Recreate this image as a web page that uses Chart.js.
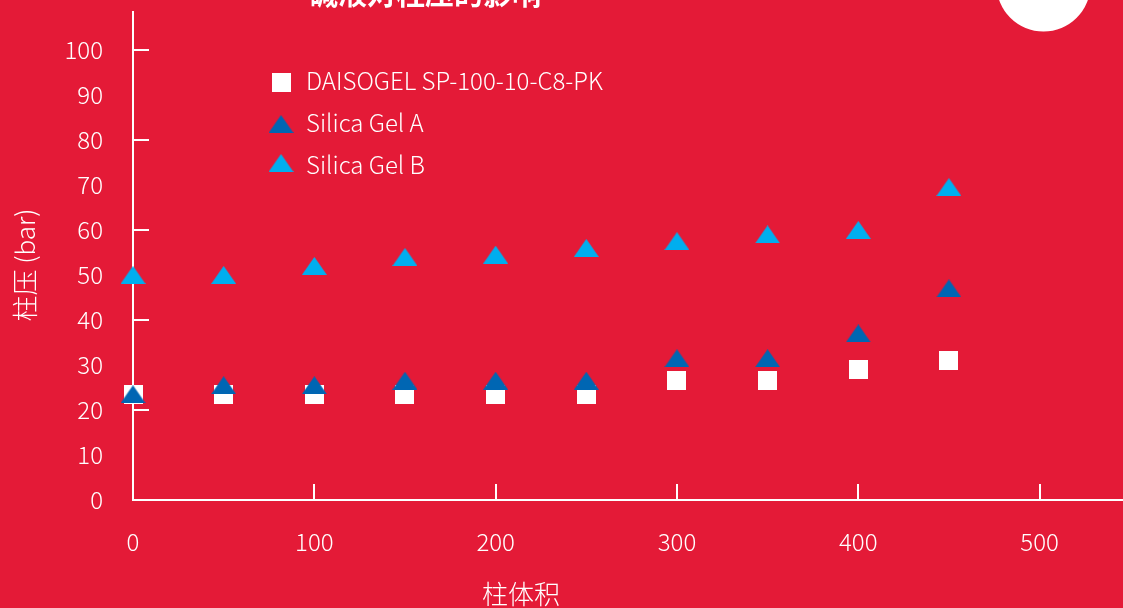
<!DOCTYPE html>
<html>
<head>
<meta charset="utf-8">
<script src="https://cdn.jsdelivr.net/npm/chart.js@4/dist/chart.umd.min.js"></script>
<style>
  html, body { margin: 0; padding: 0; background: #e41a37; overflow: hidden; }
  canvas { display: block; }
</style>
</head>
<body>
<canvas id="pressureChart" width="1123" height="608"></canvas>
<script>
// data
const columnVolume = [0, 50, 100, 150, 200, 250, 300, 350, 400, 450];
const daisogel = [23.5, 23.5, 23.5, 23.5, 23.5, 23.5, 26.5, 26.5, 29, 31];
const silicaA = [23.5, 25.5, 25.5, 26.5, 26.5, 26.5, 31.5, 31.5, 37, 47];
const silicaB = [50, 50, 52, 54, 54.5, 56, 57.5, 59, 60, 69.5];
const seriesNames = ['DAISOGEL SP-100-10-C8-PK', 'Silica Gel A', 'Silica Gel B'];
const xTickLabels = [0, 100, 200, 300, 400, 500];
const yTickLabels = [0, 10, 20, 30, 40, 50, 60, 70, 80, 90, 100];
const yTickMarks = [20, 40, 60, 80, 100];

const RED = '#e41a37';
const WHITE = '#ffffff';
const DARK_BLUE = '#0066b3';
const LIGHT_BLUE = '#00aeef';
const FONT = '"Noto Sans CJK SC", "Noto Sans", sans-serif';

function squareMarker(color) {
  const c = document.createElement('canvas');
  c.width = 19; c.height = 19;
  const g = c.getContext('2d');
  g.fillStyle = color;
  g.fillRect(0, 0, 19, 19);
  return c;
}

function triangleMarker(color) {
  const c = document.createElement('canvas');
  c.width = 25; c.height = 18;
  const g = c.getContext('2d');
  g.fillStyle = color;
  g.beginPath();
  g.moveTo(0, 18);
  g.lineTo(12.5, 0);
  g.lineTo(25, 18);
  g.closePath();
  g.fill();
  return c;
}

const markers = [squareMarker(WHITE), triangleMarker(DARK_BLUE), triangleMarker(LIGHT_BLUE)];
const toPoints = vals => vals.map((v, i) => ({ x: columnVolume[i], y: v }));

// red page, white circle and the clipped title
const backdrop = {
  id: 'backdrop',
  beforeDraw(chart) {
    const ctx = chart.ctx;
    ctx.save();
    ctx.fillStyle = RED;
    ctx.fillRect(0, 0, chart.width, chart.height);
    ctx.fillStyle = WHITE;
    ctx.beginPath();
    ctx.arc(1043.5, -15.5, 47, 0, Math.PI * 2);
    ctx.fill();
    ctx.font = 'bold 29px ' + FONT;
    ctx.textAlign = 'center';
    ctx.textBaseline = 'alphabetic';
    ctx.fillText('碱液对柱压的影响', 425, 5);
    ctx.restore();
  }
};

// inward tick marks and both axis titles
const axisMarks = {
  id: 'axisMarks',
  beforeDatasetsDraw(chart) {
    const ctx = chart.ctx;
    const { x, y } = chart.scales;
    ctx.save();
    ctx.strokeStyle = WHITE;
    ctx.lineWidth = 2;
    ctx.beginPath();
    xTickLabels.filter(v => v > 0).forEach(v => {
      const px = Math.round(x.getPixelForValue(v));
      ctx.moveTo(px, y.bottom);
      ctx.lineTo(px, y.bottom - 16);
    });
    yTickMarks.forEach(v => {
      const py = Math.round(y.getPixelForValue(v));
      ctx.moveTo(x.left, py);
      ctx.lineTo(x.left + 16, py);
    });
    ctx.stroke();
    ctx.fillStyle = WHITE;
    ctx.font = '300 26px ' + FONT;
    ctx.textAlign = 'center';
    ctx.textBaseline = 'middle';
    ctx.fillText('柱体积', 521, 594);
    ctx.translate(25, 265);
    ctx.rotate(-Math.PI / 2);
    ctx.fillText('柱压 (bar)', 0, 0);
    ctx.restore();
  }
};

// legend inside the plot
const innerLegend = {
  id: 'innerLegend',
  afterDraw(chart) {
    const ctx = chart.ctx;
    const rows = [82, 124, 163];
    const baselines = [90, 132, 174];
    ctx.save();
    ctx.fillStyle = WHITE;
    ctx.font = '300 24px ' + FONT;
    ctx.textAlign = 'left';
    ctx.textBaseline = 'alphabetic';
    seriesNames.forEach((name, i) => {
      const m = markers[i];
      ctx.drawImage(m, 281 - m.width / 2, rows[i] - m.height / 2);
      ctx.fillText(name, 306, baselines[i]);
    });
    ctx.restore();
  }
};

const ctx = document.getElementById('pressureChart').getContext('2d');
const pressureChart = new Chart(ctx, {
  type: 'scatter',
  data: {
    datasets: [
      { label: seriesNames[0], data: toPoints(daisogel), pointStyle: markers[0], order: 2, clip: false },
      { label: seriesNames[1], data: toPoints(silicaA), pointStyle: markers[1], order: 1, clip: false },
      { label: seriesNames[2], data: toPoints(silicaB), pointStyle: markers[2], order: 0, clip: false }
    ]
  },
  options: {
    responsive: false,
    animation: false,
    layout: { autoPadding: false, padding: { top: 12, left: 0, right: 0, bottom: 0 } },
    elements: { point: { radius: 10, hoverRadius: 10 } },
    plugins: {
      legend: { display: false },
      title: { display: false },
      tooltip: { enabled: false }
    },
    scales: {
      x: {
        type: 'linear',
        min: 0,
        max: 546,
        afterFit: s => { s.height = 108; s.paddingLeft = 0; s.paddingRight = 0; },
        afterBuildTicks: s => { s.ticks = xTickLabels.map(v => ({ value: v })); },
        grid: { display: true, drawOnChartArea: false, drawTicks: false },
        border: { display: true, color: WHITE, width: 2 },
        ticks: {
          color: WHITE,
          padding: 27,
          maxRotation: 0,
          font: { family: FONT, size: 24, weight: 300 }
        }
      },
      y: {
        type: 'linear',
        min: 0,
        max: 108.4,
        afterFit: s => { s.width = 133; s.paddingTop = 0; s.paddingBottom = 0; },
        afterBuildTicks: s => { s.ticks = yTickLabels.map(v => ({ value: v })); },
        grid: { display: true, drawOnChartArea: false, drawTicks: false },
        border: { display: true, color: WHITE, width: 2 },
        ticks: {
          color: WHITE,
          padding: 30,
          font: { family: FONT, size: 24, weight: 300 }
        }
      }
    }
  },
  plugins: [backdrop, axisMarks, innerLegend]
});
</script>
</body>
</html>
